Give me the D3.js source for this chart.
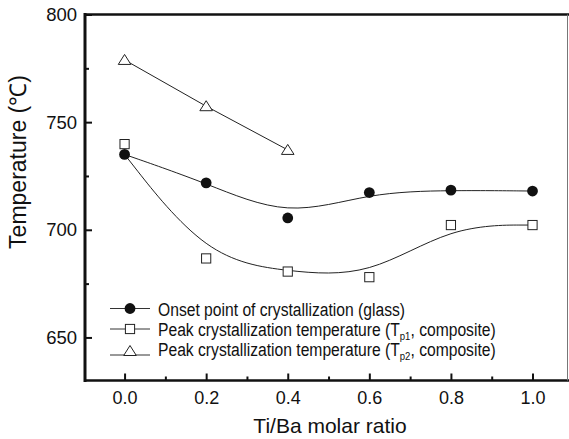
<!DOCTYPE html>
<html><head><meta charset="utf-8">
<script src="https://cdn.jsdelivr.net/npm/d3@7"></script>
<style>body{margin:0;background:#fff}</style>
</head><body>
<svg id="c" width="569" height="439"></svg>
<script>
// ---- data ----
const ratios = [0.0, 0.2, 0.4, 0.6, 0.8, 1.0];
const onset = [735.0, 721.8, 705.5, 717.3, 718.4, 718.0];          // filled circles
const tp1 = [739.8, 686.7, 680.6, 678.0, 702.2, 702.2];            // open squares
const tp1FitCtrl = [735.0, 686.7, 680.6, 678.0, 702.2, 702.2];     // B-spline control values of the Tp1 curve
const tp2Ratios = [0.0, 0.2, 0.4];
const tp2 = [778.9, 757.4, 737.1];                                  // open triangles
const xTickValues = [0.0, 0.2, 0.4, 0.6, 0.8, 1.0];
const xMinorValues = [0.1, 0.3, 0.5, 0.7, 0.9];
const yTickValues = [650, 700, 750, 800];
const yMinorValues = [675, 725, 775];
const legendLabels = [
  ["Onset point of crystallization (glass)"],
  ["Peak crystallization temperature (T", "p1", ", composite)"],
  ["Peak crystallization temperature (T", "p2", ", composite)"]
];
const xTitle = "Ti/Ba molar ratio";
const yTitle = "Temperature (\u2103)";

// ---- layout ----
const FONT = "'Liberation Sans', Arial, Helvetica, sans-serif";
const svg = d3.select("#c");
svg.append("rect").attr("width", 569).attr("height", 439).attr("fill", "#fff");
const x = d3.scaleLinear().domain([-0.097, 1.087]).range([85, 568]);
const y = d3.scaleLinear().domain([630, 800]).range([380.5, 14.5]);

// axes (inward ticks)
const gx = svg.append("g").attr("transform", "translate(0,380.5)")
  .call(d3.axisBottom(x).tickValues(xTickValues).tickSize(-7).tickPadding(11).tickFormat(d3.format(".1f")));
const gxm = svg.append("g").attr("transform", "translate(0,380.5)")
  .call(d3.axisBottom(x).tickValues(xMinorValues).tickSize(-4).tickFormat(""));
const gy = svg.append("g").attr("transform", "translate(85,0)")
  .call(d3.axisLeft(y).tickValues(yTickValues).tickSize(-7).tickPadding(8).tickFormat(d3.format("d")));
const gym = svg.append("g").attr("transform", "translate(85,0)")
  .call(d3.axisLeft(y).tickValues(yMinorValues).tickSize(-4).tickFormat(""));
[gx, gxm, gy, gym].forEach(g => {
  g.select(".domain").remove();
  g.selectAll(".tick line").attr("stroke", "#111").attr("stroke-width", 2);
});
gx.selectAll("text").attr("font-family", FONT).attr("font-size", 18).attr("fill", "#111");
gy.selectAll("text").attr("font-family", FONT).attr("font-size", 18.5).attr("fill", "#111");

// frame
svg.append("line").attr("x1", 85).attr("x2", 85).attr("y1", 13).attr("y2", 382)
  .attr("stroke", "#111").attr("stroke-width", 3);
svg.append("line").attr("x1", 84).attr("x2", 569).attr("y1", 380.5).attr("y2", 380.5)
  .attr("stroke", "#111").attr("stroke-width", 2.5);
svg.append("line").attr("x1", 84).attr("x2", 569).attr("y1", 14.5).attr("y2", 14.5)
  .attr("stroke", "#111").attr("stroke-width", 2.5);
svg.append("line").attr("x1", 567.5).attr("x2", 567.5).attr("y1", 14.5).attr("y2", 380.5)
  .attr("stroke", "#777").attr("stroke-width", 1);

// titles
svg.append("text").attr("x", 330).attr("y", 432.5).attr("text-anchor", "middle")
  .attr("font-family", FONT).attr("font-size", 21).attr("fill", "#111").text(xTitle);
svg.append("text").attr("transform", "translate(26,162) rotate(-90)").attr("text-anchor", "middle")
  .attr("font-family", FONT).attr("font-size", 23).attr("fill", "#111").text(yTitle);

// curves
const basis = d3.line().curve(d3.curveBasis).x(d => x(d[0])).y(d => y(d[1]));
const straight = d3.line().x(d => x(d[0])).y(d => y(d[1]));
svg.append("path").attr("d", basis(ratios.map((r, i) => [r, onset[i]])))
  .attr("fill", "none").attr("stroke", "#222").attr("stroke-width", 1);
svg.append("path").attr("d", basis(ratios.map((r, i) => [r, tp1FitCtrl[i]])))
  .attr("fill", "none").attr("stroke", "#222").attr("stroke-width", 1);
svg.append("path").attr("d", straight(tp2Ratios.map((r, i) => [r, tp2[i]])))
  .attr("fill", "none").attr("stroke", "#222").attr("stroke-width", 1);

// markers
const triPath = "M0,-5.5L6.3,4.5L-6.3,4.5Z";
function circle(g, cx, cy) { g.append("circle").attr("cx", cx).attr("cy", cy).attr("r", 5.4).attr("fill", "#111"); }
function square(g, cx, cy) { g.append("rect").attr("x", cx - 4.6).attr("y", cy - 4.6).attr("width", 9.2).attr("height", 9.2)
  .attr("fill", "#fff").attr("stroke", "#222").attr("stroke-width", 1); }
function tri(g, cx, cy) { g.append("path").attr("d", triPath).attr("transform", `translate(${cx},${cy})`)
  .attr("fill", "#fff").attr("stroke", "#222").attr("stroke-width", 1); }
const mk = svg.append("g");
ratios.forEach((r, i) => square(mk, x(r), y(tp1[i])));
tp2Ratios.forEach((r, i) => tri(mk, x(r), y(tp2[i])));
ratios.forEach((r, i) => circle(mk, x(r), y(onset[i])));

// legend
const leg = svg.append("g");
const rowText = [316, 336, 355.5];
const rowSym = [308.5, 329, 351];
const rowLine = [308.5, 329, 355];
const drawers = [circle, square, tri];
legendLabels.forEach((parts, i) => {
  leg.append("line").attr("x1", 110).attr("x2", 150).attr("y1", rowLine[i]).attr("y2", rowLine[i])
    .attr("stroke", "#333").attr("stroke-width", 1);
  drawers[i](leg, 130, rowSym[i]);
  const t = leg.append("text").attr("transform", `translate(158,${rowText[i]}) scale(0.87,1)`)
    .attr("font-family", FONT).attr("font-size", 18).attr("fill", "#111");
  parts.forEach((p, j) => {
    const ts = t.append("tspan").text(p);
    if (j === 1) ts.attr("font-size", 11).attr("dy", 4);
    if (j === 2) ts.attr("dy", -4);
  });
});
</script>
</body></html>
